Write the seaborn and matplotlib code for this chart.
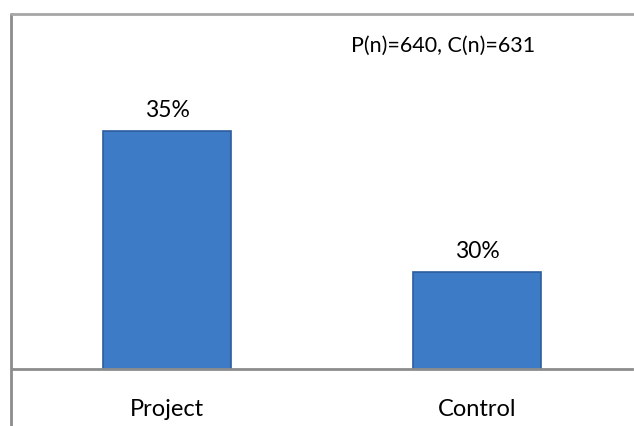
import matplotlib
matplotlib.use("Agg")
import matplotlib.pyplot as plt
import seaborn as sns
import pandas as pd
from matplotlib.lines import Line2D

categories = ["Project", "Control"]
values = [35, 30]
value_labels = ["35%", "30%"]
note = "P(n)=640, C(n)=631"

sns.set_theme(style="white")
plt.rcParams["font.family"] = ["Lato", "DejaVu Sans"]

df = pd.DataFrame({"group": categories, "pct": values})

W, H = 634, 427
fig = plt.figure(figsize=(W / 100, H / 100), dpi=100)
ax = fig.add_axes([12 / W, (H - 370) / H, (632 - 12) / W, (370 - 15) / H])

sns.barplot(data=df, x="group", y="pct", ax=ax, color="#3E7BC6",
            width=0.41, saturation=1, edgecolor="#2D5E9E", linewidth=1.2)

ax.set_ylim(26.56, 39.15)
ax.set_xlim(-0.5, 1.5)
ax.set_xlabel("")
ax.set_ylabel("")
ax.set_yticks([])
for s in ["top", "right", "left"]:
    ax.spines[s].set_visible(False)
ax.spines["bottom"].set_color("#8c8c8c")
ax.spines["bottom"].set_linewidth(2)
ax.tick_params(axis="x", length=0, pad=21, labelsize=17, labelcolor="black")

for i, (v, lab) in enumerate(zip(values, value_labels)):
    ax.annotate(lab, (i, v), xytext=(0, 8), textcoords="offset points",
                ha="center", va="bottom", fontsize=16.5, color="black")

ax.text(0.695, 0.913, note, transform=ax.transAxes, ha="center", va="center",
        fontsize=15.5, color="black")

# chart-area frame (left and top borders)
fig.add_artist(Line2D([11 / W, 11 / W], [0, (H - 15) / H], color="#8c8c8c",
                      lw=2, transform=fig.transFigure))
fig.add_artist(Line2D([11 / W, 1], [(H - 15) / H, (H - 15) / H], color="#a6a6a6",
                      lw=2, transform=fig.transFigure))

fig.savefig("out.png", dpi=100)
